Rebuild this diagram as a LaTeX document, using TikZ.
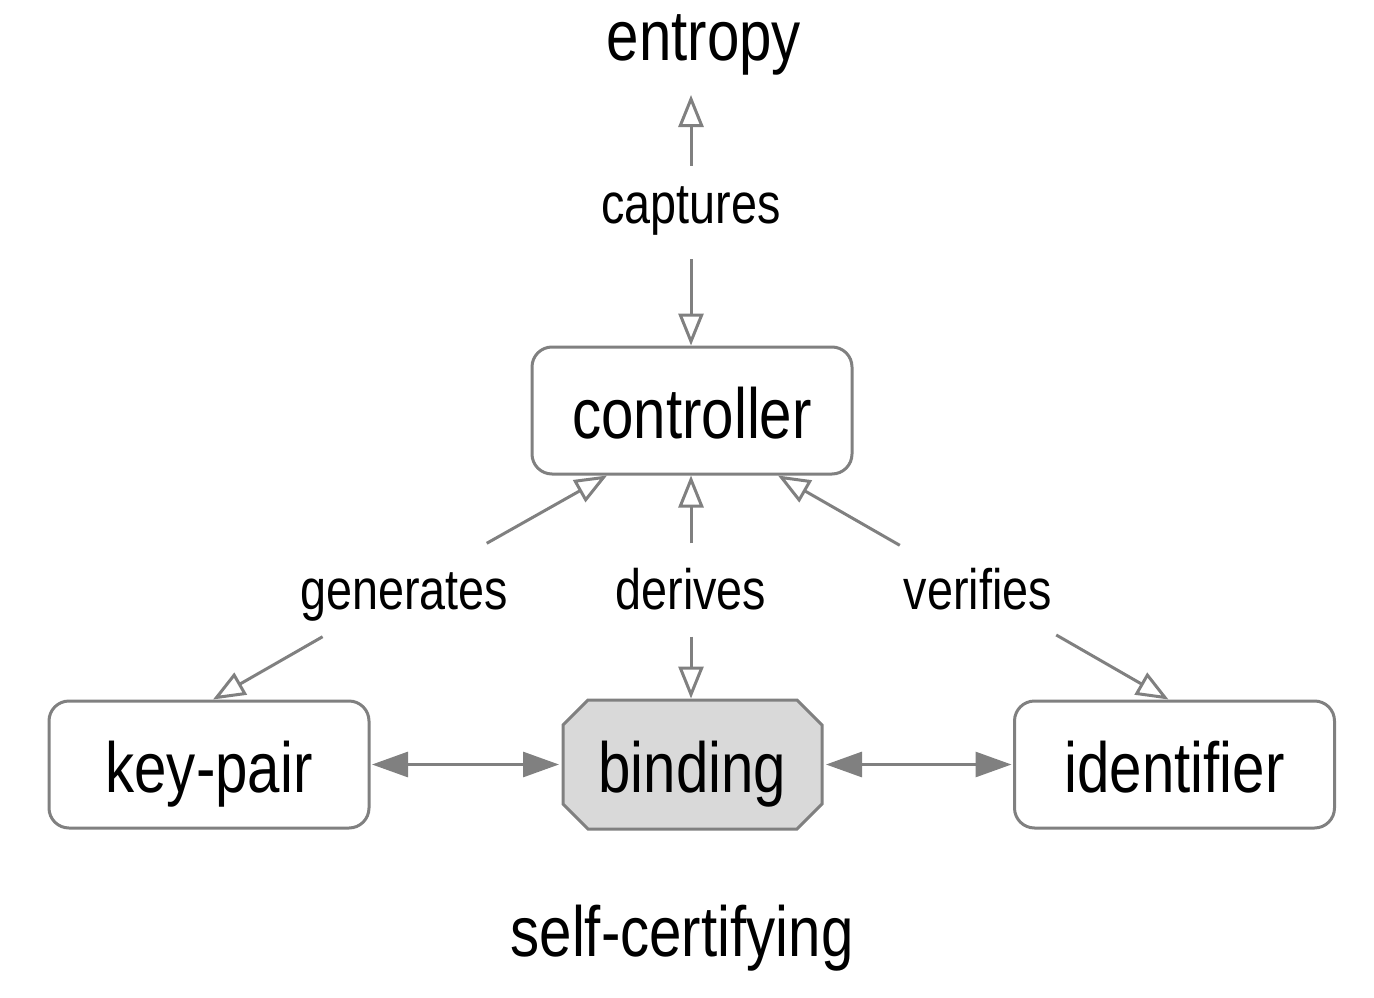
\documentclass[tikz,border=0pt]{standalone}
\usepackage{fontspec}
\setmainfont{Liberation Sans}[FakeStretch=0.82]
\usetikzlibrary{arrows.meta,calc}
\definecolor{edgegray}{RGB}{128,128,128}
\definecolor{bindfill}{RGB}{217,217,217}
\tikzset{
 bigtext/.style={font=\fontsize{71pt}{80pt}\selectfont},
 lbltext/.style={font=\fontsize{57pt}{64pt}\selectfont},
 box/.style={bigtext, draw=edgegray, line width=3pt, rounded corners=20pt,
   minimum width=320pt, minimum height=127pt, text height=70pt, text depth=14pt, inner sep=0pt},
 bindbox/.style={bigtext, line width=3pt,
   minimum width=259pt, minimum height=129pt, text height=70pt, text depth=14pt, inner sep=0pt},
 octa/.style={draw=edgegray, fill=bindfill, line width=3pt, line join=miter},
 lbl/.style={lbltext, minimum height=93pt, text height=55pt, text depth=17pt, inner xsep=4pt, inner ysep=0pt},
 openarr/.style={draw=edgegray, line width=3pt, -{Triangle[open, length=32pt, width=25pt]}},
 fillarr/.style={draw=edgegray, line width=3pt, {Triangle[length=36pt,width=25pt]}-{Triangle[length=36pt,width=25pt]}},
}
\begin{document}
\begin{tikzpicture}[x=1pt,y=-1pt]
\useasboundingbox (0,0) rectangle (1374,998);
\coordinate (bc) at (692.5,764.5);
\draw[octa] ($(bc)+(-104.5,-64.5)$) -- ($(bc)+(104.5,-64.5)$) -- ($(bc)+(129.5,-39.5)$)
  -- ($(bc)+(129.5,39.5)$) -- ($(bc)+(104.5,64.5)$) -- ($(bc)+(-104.5,64.5)$)
  -- ($(bc)+(-129.5,39.5)$) -- ($(bc)+(-129.5,-39.5)$) -- cycle;
\node[bigtext, anchor=base] (entropy) at (704,60) {entropy};
\node[lbl, text height=38pt] (cap) at (691,212.5) {captures};
\node[box] (ctl) at (692,410.5) {controller};
\node[lbl] (gen) at (404,590) {generates};
\node[lbl] (der) at (691,590) {derives};
\node[lbl] (ver) at (978,590) {verifies};
\node[box] (kp) at (209,764.5) {key-pair};
\node[bindbox] (bind) at (bc) {binding};
\node[box] (id) at (1174.5,764.5) {identifier};
\node[bigtext, anchor=base] (sc) at (682,956) {self-certifying};
\coordinate (enttip) at ($(entropy.base -| cap.center)+(0,35)$);
\draw[openarr] (cap) -- (enttip);
\draw[openarr] (cap) -- (cap.center |- ctl.north);
\draw[openarr] (gen) -- ($(ctl.south)+(-85,0)$);
\draw[openarr] (gen) -- ($(kp.north)+(4,0)$);
\draw[openarr] (der) -- (der.center |- ctl.south);
\draw[openarr] (der) -- (der.center |- bind.north);
\draw[openarr] (ver) -- ($(ctl.south)+(86,0)$);
\draw[openarr] (ver) -- ($(id.north)+(-6,0)$);
\draw[fillarr, shorten <=1.5pt, shorten >=2.5pt] (kp) -- (bind);
\draw[fillarr, shorten <=2.5pt, shorten >=1.5pt] (bind) -- (id);
\end{tikzpicture}
\end{document}
